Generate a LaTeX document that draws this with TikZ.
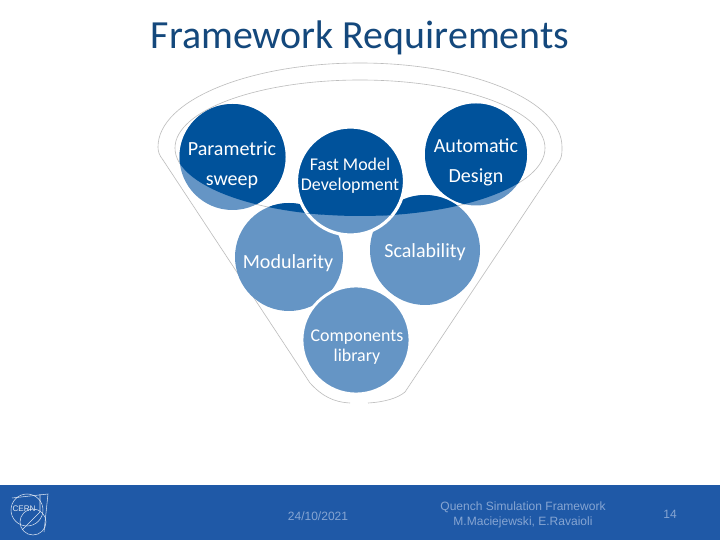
\documentclass[tikz,border=0pt]{standalone}
\usepackage{fontspec}
\setmainfont{Carlito}
\newfontfamily\footfont{Liberation Sans}
\definecolor{darkblob}{HTML}{00529B}
\definecolor{lightblob}{HTML}{6595C5}
\definecolor{footband}{HTML}{1F59A7}
\definecolor{titleblue}{HTML}{14487C}
\definecolor{funnelgrey}{HTML}{BDBDBD}
\definecolor{foottext}{HTML}{86A5D2}
\tikzset{
  blobtext/.style={text=white,align=center,font=\fontsize{11.4pt}{17pt}\selectfont},
  smallblob/.style={text=white,align=center,font=\fontsize{10.2pt}{11.2pt}\selectfont},
  foottextstyle/.style={text=foottext,align=center,font=\footfont\fontsize{6.85pt}{8.6pt}\selectfont},
  funnelline/.style={draw=funnelgrey,line width=0.35pt},
  logoline/.style={draw=white!85!footband,line width=0.3pt}
}
\begin{document}
\begin{tikzpicture}[x=0.02cm,y=-0.02cm]
      \useasboundingbox (0,0) rectangle (720,540);
      \fill[white] (0,0) rectangle (720,540);
      % funnel outline
      \draw[funnelline] (163,160) .. controls (159,155) and (158,151) .. (158,147)
        .. controls (158,100) and (250,63) .. (360,63)
        .. controls (470,63) and (562,100) .. (562,147)
        .. controls (562,152) and (562,156) .. (560,160) -- (405,392)
        .. controls (398,398) and (385,402) .. (368,403);
      \draw[funnelline] (350,403) .. controls (333,402) and (322,396) .. (310,383) -- (163,160);
      \draw[funnelline] (360,148) ellipse (185 and 68);
      % light circles
      \fill[lightblob] (232.5,157) circle (53);
      \fill[lightblob] (476,154.5) circle (51);
      \fill[lightblob] (289,257) circle (54);
      \fill[lightblob] (425,250) circle (55);
      \draw[white,line width=1.6pt,fill=lightblob] (356,340) circle (54);
      \draw[white,line width=1.8pt,fill=lightblob] (350.5,181) circle (54);
      % dark part above the lower rim
      \begin{scope}
        \clip (360,148) ellipse (185 and 68);
        \fill[darkblob] (232.5,157) circle (53);
        \fill[darkblob] (476,154.5) circle (51);
        \fill[darkblob] (289,257) circle (54);
        \fill[darkblob] (425,250) circle (55);
        \draw[white,line width=1.8pt,fill=darkblob] (350.5,181) circle (54);
      \end{scope}
      \node[blobtext] (parametric) at (232,165) {Parametric\\sweep};
      \node[smallblob] (fastmodel) at (350,176) {Fast Model\\Development};
      \node[blobtext] (automatic) at (476,162) {Automatic\\Design};
      \node[blobtext] (modularity) at (288,263) {Modularity};
      \node[blobtext] (scalability) at (425,252) {Scalability};
      \node[smallblob] (components) at (357,347) {Components\\library};
      % title
      \node[text=titleblue,font=\fontsize{22.7pt}{24pt}\selectfont] (title) at (360,38) {Framework Requirements};
      % footer
      \fill[footband] (0,485) rectangle (720,540);
      \node[foottextstyle] (datelabel) at (318,516) {24/10/2021};
      \node[foottextstyle] (framework) at (523,515) {Quench Simulation Framework\\M.Maciejewski, E.Ravaioli};
      \node[foottextstyle] (pagenum) at (670,514) {14};
      % logo
      \draw[logoline] (27,510) circle (16);
      \draw[logoline] (33,522) circle (13);
      \draw[logoline] (12,498) -- (48,494) -- (44,532);
      \draw[logoline] (40,494) -- (40,512) -- (22,530);
      \node[text=white!85!footband,font=\footfont\fontsize{4.6pt}{5pt}\selectfont] (cernlogo) at (24,509) {CERN};
    \end{tikzpicture}
\end{document}
